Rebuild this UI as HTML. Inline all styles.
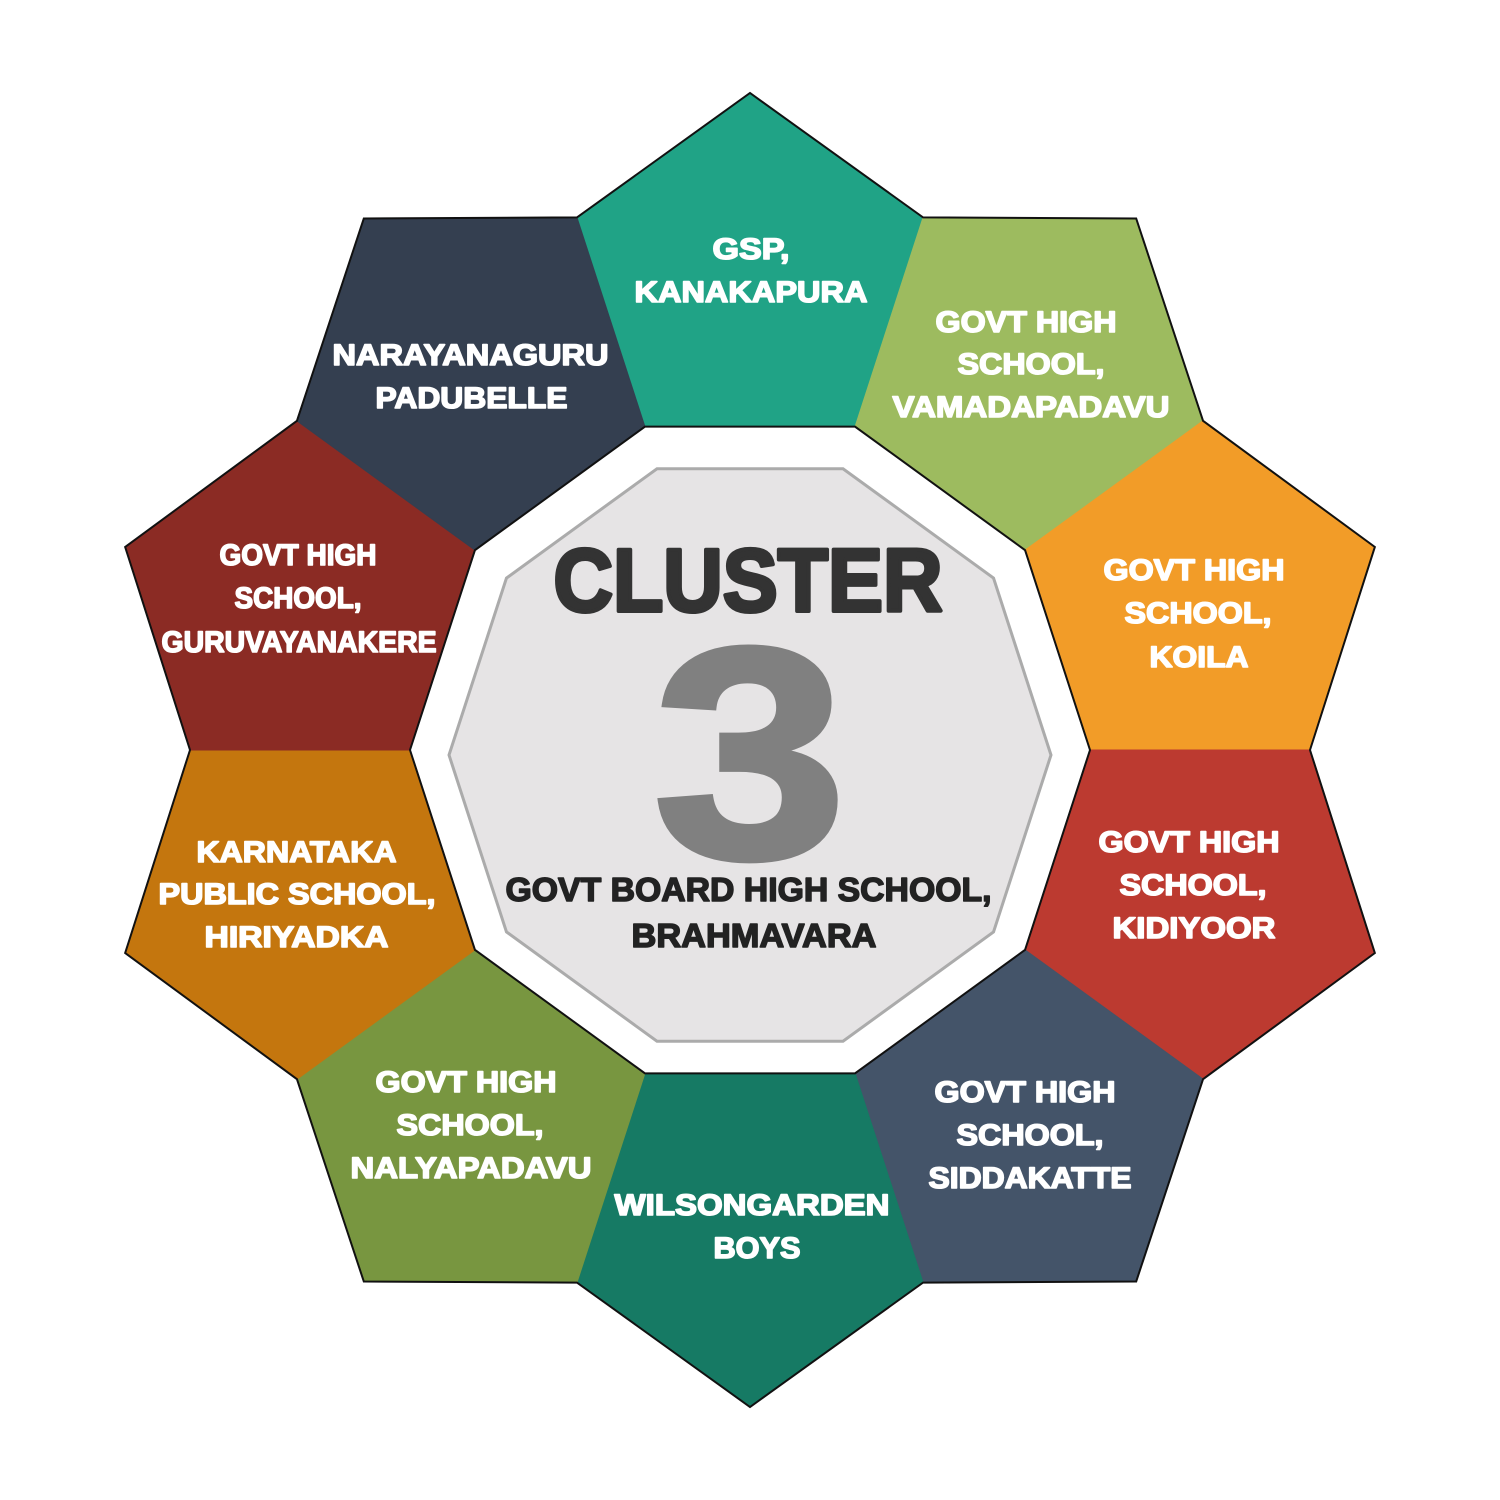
<!DOCTYPE html>
<html>
<head>
<meta charset="utf-8">
<style>
  html, body { margin: 0; padding: 0; background: #ffffff; }
  body { width: 1500px; height: 1500px; overflow: hidden; }
  svg { display: block; }
  .lbl { font-family: "Liberation Sans", Arial, sans-serif; font-weight: bold; font-size: 30px; fill: #ffffff; stroke: #ffffff; stroke-width: 1.6; stroke-linejoin: round; text-anchor: middle; }
</style>
</head>
<body>
<svg width="1500" height="1500" viewBox="0 0 1500 1500" xmlns="http://www.w3.org/2000/svg">
  <rect width="1500" height="1500" fill="#ffffff"/>

  <!-- ring pentagons -->
  <g stroke-width="1" stroke-linejoin="round">
    <polygon fill="#20a386" stroke="#20a386" points="644.93,426.64 855.07,426.64 923.05,217.41 750,93 576.95,217.41"/>
    <polygon fill="#9dbb5f" stroke="#9dbb5f" points="855.07,426.64 1025.07,550.15 1203.05,420.84 1136.18,218.47 923.05,217.41"/>
    <polygon fill="#f29c28" stroke="#f29c28" points="1025.07,550.15 1090,750 1310,750 1374.85,546.97 1203.05,420.84"/>
    <polygon fill="#bc3a30" stroke="#bc3a30" points="1090,750 1025.07,949.85 1203.05,1079.16 1374.85,953.03 1310,750"/>
    <polygon fill="#445469" stroke="#445469" points="1025.07,949.85 855.07,1073.36 923.05,1282.59 1136.18,1281.53 1203.05,1079.16"/>
    <polygon fill="#167a64" stroke="#167a64" points="855.07,1073.36 644.93,1073.36 576.95,1282.59 750,1407 923.05,1282.59"/>
    <polygon fill="#789640" stroke="#789640" points="644.93,1073.36 474.93,949.85 296.95,1079.16 363.82,1281.53 576.95,1282.59"/>
    <polygon fill="#c4760e" stroke="#c4760e" points="474.93,949.85 410,750 190,750 125.15,953.03 296.95,1079.16"/>
    <polygon fill="#8b2b24" stroke="#8b2b24" points="410,750 474.93,550.15 296.95,420.84 125.15,546.97 190,750"/>
    <polygon fill="#343f50" stroke="#343f50" points="474.93,550.15 644.93,426.64 576.95,217.41 363.82,218.47 296.95,420.84"/>
  </g>

  <!-- outer outline -->
  <polygon fill="none" stroke="#111111" stroke-width="2" stroke-linejoin="miter"
    points="576.95,217.41 750,93 923.05,217.41 1136.18,218.47 1203.05,420.84 1374.85,546.97 1310,750 1374.85,953.03 1203.05,1079.16 1136.18,1281.53 923.05,1282.59 750,1407 576.95,1282.59 363.82,1281.53 296.95,1079.16 125.15,953.03 190,750 125.15,546.97 296.95,420.84 363.82,218.47"/>
  <!-- inner outline (white gap) -->
  <polygon fill="#ffffff" stroke="#111111" stroke-width="2"
    points="644.93,426.64 855.07,426.64 1025.07,550.15 1090,750 1025.07,949.85 855.07,1073.36 644.93,1073.36 474.93,949.85 410,750 474.93,550.15"/>

  <!-- center decagon -->
  <polygon fill="#e6e4e5" stroke="#ababab" stroke-width="3"
    points="656.99,468.73 843.01,468.73 993.52,578.07 1051,755 993.52,931.93 843.01,1041.27 656.99,1041.27 506.48,931.93 449,755 506.48,578.07"/>

  <!-- center text -->
  <text x="748" y="611" font-family="Liberation Sans, Arial, sans-serif" font-weight="bold" font-size="89" fill="#333333" stroke="#333333" stroke-width="4" stroke-linejoin="round" text-anchor="middle" textLength="389" lengthAdjust="spacingAndGlyphs">CLUSTER</text>
  <text transform="translate(750,857) scale(1.16,1)" x="0" y="0" font-family="Liberation Sans, Arial, sans-serif" font-weight="bold" font-size="300" fill="#808080" stroke="#808080" stroke-width="6" text-anchor="middle">3</text>
  <text x="748.5" y="901" font-family="Liberation Sans, Arial, sans-serif" font-weight="bold" font-size="33" fill="#222222" stroke="#222222" stroke-width="1.5" stroke-linejoin="round" text-anchor="middle" textLength="486" lengthAdjust="spacingAndGlyphs">GOVT BOARD HIGH SCHOOL,</text>
  <text x="754" y="947" font-family="Liberation Sans, Arial, sans-serif" font-weight="bold" font-size="33" fill="#222222" stroke="#222222" stroke-width="1.5" stroke-linejoin="round" text-anchor="middle" textLength="245" lengthAdjust="spacingAndGlyphs">BRAHMAVARA</text>

  <!-- pentagon labels -->
  <text class="lbl" x="751" y="259" textLength="77" lengthAdjust="spacingAndGlyphs">GSP,</text>
  <text class="lbl" x="751" y="302" textLength="233" lengthAdjust="spacingAndGlyphs">KANAKAPURA</text>

  <text class="lbl" x="1026" y="332" textLength="181" lengthAdjust="spacingAndGlyphs">GOVT HIGH</text>
  <text class="lbl" x="1031" y="374" textLength="147" lengthAdjust="spacingAndGlyphs">SCHOOL,</text>
  <text class="lbl" x="1031" y="417" textLength="277" lengthAdjust="spacingAndGlyphs">VAMADAPADAVU</text>

  <text class="lbl" x="1194" y="580" textLength="181" lengthAdjust="spacingAndGlyphs">GOVT HIGH</text>
  <text class="lbl" x="1198" y="623" textLength="147" lengthAdjust="spacingAndGlyphs">SCHOOL,</text>
  <text class="lbl" x="1199" y="667" textLength="99" lengthAdjust="spacingAndGlyphs">KOILA</text>

  <text class="lbl" x="1189" y="852" textLength="181" lengthAdjust="spacingAndGlyphs">GOVT HIGH</text>
  <text class="lbl" x="1193" y="895" textLength="147" lengthAdjust="spacingAndGlyphs">SCHOOL,</text>
  <text class="lbl" x="1194" y="938" textLength="163" lengthAdjust="spacingAndGlyphs">KIDIYOOR</text>

  <text class="lbl" x="1025" y="1102" textLength="181" lengthAdjust="spacingAndGlyphs">GOVT HIGH</text>
  <text class="lbl" x="1030" y="1145" textLength="147" lengthAdjust="spacingAndGlyphs">SCHOOL,</text>
  <text class="lbl" x="1030" y="1188" textLength="203" lengthAdjust="spacingAndGlyphs">SIDDAKATTE</text>

  <text class="lbl" x="752" y="1215" textLength="275" lengthAdjust="spacingAndGlyphs">WILSONGARDEN</text>
  <text class="lbl" x="757" y="1258" textLength="87" lengthAdjust="spacingAndGlyphs">BOYS</text>

  <text class="lbl" x="466" y="1092" textLength="181" lengthAdjust="spacingAndGlyphs">GOVT HIGH</text>
  <text class="lbl" x="470" y="1135" textLength="147" lengthAdjust="spacingAndGlyphs">SCHOOL,</text>
  <text class="lbl" x="471" y="1178" textLength="241" lengthAdjust="spacingAndGlyphs">NALYAPADAVU</text>

  <text class="lbl" x="296.5" y="862" textLength="200" lengthAdjust="spacingAndGlyphs">KARNATAKA</text>
  <text class="lbl" x="297" y="904" textLength="277" lengthAdjust="spacingAndGlyphs">PUBLIC SCHOOL,</text>
  <text class="lbl" x="296.5" y="947" textLength="184" lengthAdjust="spacingAndGlyphs">HIRIYADKA</text>

  <text class="lbl" x="298" y="565" textLength="157" lengthAdjust="spacingAndGlyphs">GOVT HIGH</text>
  <text class="lbl" x="298" y="608" textLength="127" lengthAdjust="spacingAndGlyphs">SCHOOL,</text>
  <text class="lbl" x="299" y="652" textLength="275" lengthAdjust="spacingAndGlyphs">GURUVAYANAKERE</text>

  <text class="lbl" x="470.5" y="365" textLength="276" lengthAdjust="spacingAndGlyphs">NARAYANAGURU</text>
  <text class="lbl" x="471.5" y="408" textLength="192" lengthAdjust="spacingAndGlyphs">PADUBELLE</text>
</svg>
</body>
</html>
